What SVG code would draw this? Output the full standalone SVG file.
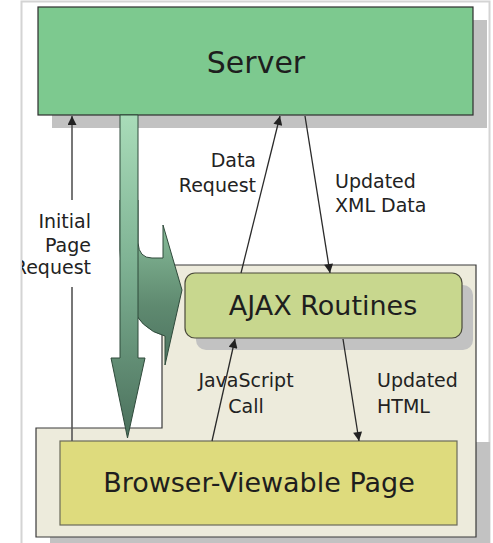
<svg xmlns="http://www.w3.org/2000/svg" width="493" height="543" viewBox="0 0 493 543">
<style>
.lbl{font-family:"DejaVu Sans","Liberation Sans",sans-serif;font-size:19px;fill:#222}
.big{font-family:"DejaVu Sans","Liberation Sans",sans-serif;fill:#1e1e1e}
.conn{stroke:#2a2a2a;stroke-width:1.3;fill:none}
.shadow{fill:#c2c2c2}
</style>
<defs>
<marker id="ah" viewBox="0 0 10 10" refX="10" refY="5" markerWidth="11" markerHeight="9" markerUnits="userSpaceOnUse" orient="auto">
<path d="M0,0 L10,5 L0,10 z" fill="#222"/>
</marker>
<linearGradient id="gg" gradientUnits="userSpaceOnUse" x1="0" y1="115" x2="0" y2="440">
<stop offset="0" stop-color="#a9dcb9"/>
<stop offset="0.45" stop-color="#7fb394"/>
<stop offset="1" stop-color="#4a6f5b"/>
</linearGradient>
<linearGradient id="gb" gradientUnits="userSpaceOnUse" x1="0" y1="215" x2="0" y2="365">
<stop offset="0" stop-color="#8cc39f"/>
<stop offset="0.6" stop-color="#5f8a70"/>
<stop offset="1" stop-color="#4d7360"/>
</linearGradient>
<clipPath id="frame"><rect x="22" y="0" width="471" height="543"/></clipPath>
</defs>
<rect x="0" y="0" width="493" height="543" fill="#fff"/>
<rect x="21.5" y="1.5" width="468" height="545" fill="none" stroke="#d4d4d4" stroke-width="2"/>

<g id="server">
<rect class="shadow" x="52" y="20" width="435" height="108"/>
<rect x="38" y="7" width="435" height="108" fill="#7dc98f" stroke="#2e2e2e" stroke-width="1.2"/>
<text class="big" x="256" y="73" font-size="30" text-anchor="middle">Server</text>
</g>

<g id="browser-container">
<rect class="shadow" x="50" y="442" width="440" height="110"/>
<polygon points="36,428 162,428 162,265 476,265 476,537 36,537" fill="#edebdc" stroke="#3a3a3a" stroke-width="1.2"/>
</g>

<g id="page-flow">
<path d="M120,200 L138,200 L138,243 Q139,258 152,258 L163,258 L163,225 L182,290 L165,365 L165,336 Q140,330 128,300 Q121,280 120,250 Z" fill="url(#gb)" stroke="#2f4a3b" stroke-width="1"/>
<path d="M120,115 L138,115 L138,358 L145,358 L127.5,438 L111,358 L120,358 Z" fill="url(#gg)" stroke="#2f4a3b" stroke-width="1"/>
</g>

<g id="ajax">
<rect class="shadow" x="196" y="285" width="277" height="65" rx="10" fill="#b3b3b3"/>
<rect x="185" y="273" width="277" height="65" rx="10" fill="#c8d78e" stroke="#4a4a3a" stroke-width="1.2"/>
<text class="big" x="323" y="315" font-size="27" text-anchor="middle">AJAX Routines</text>
</g>

<g id="page">
<rect x="60" y="441" width="397" height="84" fill="#dedb7d" stroke="#6a6a5a" stroke-width="1.2"/>
<text class="big" x="259" y="492" font-size="27" text-anchor="middle">Browser-Viewable Page</text>
</g>

<g id="connectors">
<line x1="72" y1="441" x2="72" y2="287" stroke="#555" stroke-width="1.6"/>
<line x1="72" y1="200" x2="72" y2="116" stroke="#555" stroke-width="1.6" marker-end="url(#ah)"/>
<line class="conn" x1="241" y1="273" x2="280" y2="116" marker-end="url(#ah)"/>
<line class="conn" x1="305" y1="116" x2="330" y2="273" marker-end="url(#ah)"/>
<line class="conn" x1="212" y1="441" x2="235" y2="339" marker-end="url(#ah)"/>
<line class="conn" x1="343" y1="339" x2="359" y2="441" marker-end="url(#ah)"/>
</g>

<g id="labels">
<g clip-path="url(#frame)">
<text class="lbl" x="91" y="228" text-anchor="end">Initial</text>
<text class="lbl" x="91" y="252" text-anchor="end">Page</text>
<text class="lbl" x="91" y="274" text-anchor="end">Request</text>
</g>
<text class="lbl" x="256" y="167" text-anchor="end">Data</text>
<text class="lbl" x="256" y="192" text-anchor="end">Request</text>
<text class="lbl" x="335" y="188">Updated</text>
<text class="lbl" x="335" y="212">XML Data</text>
<text class="lbl" x="246" y="387" text-anchor="middle">JavaScript</text>
<text class="lbl" x="246" y="413" text-anchor="middle">Call</text>
<text class="lbl" x="377" y="387">Updated</text>
<text class="lbl" x="377" y="413">HTML</text>
</g>
</svg>
